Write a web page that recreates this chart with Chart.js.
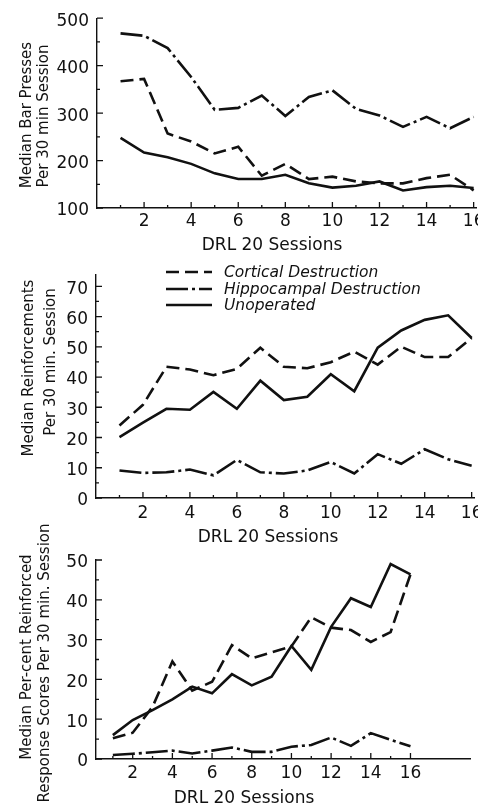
<!DOCTYPE html>
<html>
<head>
<meta charset="utf-8">
<script src="https://cdn.jsdelivr.net/npm/chart.js@4.4.1/dist/chart.umd.min.js"></script>
<style>
    body { margin: 0; background: #fff; }
    #wrap { position: relative; width: 478px; height: 806px; overflow: hidden; font-family: "DejaVu Sans", sans-serif; color: #111; }
    canvas { position: absolute; left: 0; }
    .ttl { position: absolute; white-space: nowrap; line-height: 1; font-size: 17px; transform: translate(-50%, -50%); }
    .rot { font-size: 15px; transform: translate(-50%, -50%) rotate(-90deg); }
    #legend { position: absolute; left: 166px; top: 264px; font-style: italic; font-size: 15.5px; line-height: 16.5px; }
    #legend div { display: flex; align-items: center; white-space: nowrap; }
    #legend svg { margin-right: 12px; }
</style>
</head>
<body>
<div id="wrap">
    <canvas id="chart-presses" width="478" height="256" style="top:0"></canvas>
    <canvas id="chart-reinf" width="478" height="290" style="top:256px"></canvas>
    <canvas id="chart-percent" width="478" height="306" style="top:500px"></canvas>

    <div class="ttl rot" style="left:26px; top:115px">Median Bar Presses</div>
    <div class="ttl rot" style="left:43px; top:116px">Per 30 min Session</div>
    <div class="ttl" style="left:272px; top:244px">DRL 20 Sessions</div>

    <div class="ttl rot" style="left:28px; top:368px">Median Reinforcements</div>
    <div class="ttl rot" style="left:50px; top:362px">Per 30 min. Session</div>
    <div class="ttl" style="left:268px; top:536px">DRL 20 Sessions</div>

    <div class="ttl rot" style="left:26px; top:657px">Median Per-cent Reinforced</div>
    <div class="ttl rot" style="left:44px; top:663px">Response Scores Per 30 min. Session</div>
    <div class="ttl" style="left:244px; top:797px">DRL 20 Sessions</div>

    <div id="legend"></div>
</div>
<script>
const sessions = [1, 2, 3, 4, 5, 6, 7, 8, 9, 10, 11, 12, 13, 14, 15, 16];
const sessionLabels = [2, 4, 6, 8, 10, 12, 14, 16];
const seriesNames = ["Cortical Destruction", "Hippocampal Destruction", "Unoperated"];

// bar presses per 30 min session
const pressesCortical = [367, 372, 257, 240, 215, 229, 168, 193, 161, 166, 156, 152, 152, 163, 170, 137];
const pressesHippocampal = [468, 463, 437, 376, 307, 311, 337, 294, 334, 348, 309, 295, 271, 292, 268, 292];
const pressesUnoperated = [248, 217, 207, 193, 173, 161, 161, 170, 152, 143, 147, 156, 137, 144, 147, 142];
const pressesTicks = [100, 200, 300, 400, 500];

// reinforcements per 30 min session
const reinfCortical = [24.0, 30.8, 43.4, 42.5, 40.6, 42.7, 49.7, 43.4, 42.9, 44.9, 48.4, 44.1, 50.0, 46.6, 46.6, 52.9];
const reinfHippocampal = [9.1, 8.3, 8.5, 9.4, 7.5, 12.6, 8.5, 8.1, 9.1, 11.9, 8.1, 14.5, 11.3, 16.1, 12.8, 10.7];
const reinfUnoperated = [20.1, 24.9, 29.5, 29.2, 35.1, 29.5, 38.8, 32.4, 33.5, 40.9, 35.3, 49.7, 55.4, 58.9, 60.4, 52.9];
const reinfTicks = [0, 10, 20, 30, 40, 50, 60, 70];

// per-cent reinforced response scores
const percentCortical = [5.2, 6.6, 13.1, 24.5, 17.2, 19.4, 28.6, 25.3, 26.8, 28.3, 35.6, 33.0, 32.4, 29.4, 31.9, 46.4];
const percentHippocampal = [1.0, 1.3, 1.7, 2.1, 1.4, 2.1, 2.9, 1.8, 1.8, 3.1, 3.5, 5.4, 3.3, 6.5, 4.8, 3.2];
const percentUnoperated = [6.0, 9.8, 12.3, 15.0, 18.2, 16.5, 21.3, 18.5, 20.7, 28.4, 22.4, 33.2, 40.4, 38.2, 49.0, 46.4];
const percentTicks = [0, 10, 20, 30, 40, 50];

const ink = "#111";
const dashes = [[13, 6], [22, 4, 3, 4], []];
const tickFont = { family: "DejaVu Sans", size: 17 };

// tick marks drawn on the inside of the axes, like the original figure
const innerTicks = {
    id: "innerTicks",
    afterDatasetsDraw(chart, args, opts) {
        const { ctx, chartArea } = chart;
        const x = chart.scales.x;
        const y = chart.scales.y;
        ctx.save();
        ctx.strokeStyle = ink;
        ctx.lineWidth = 1.3;
        ctx.beginPath();
        x.ticks.forEach((t) => {
            const px = x.getPixelForValue(t.value);
            const len = t.value % 2 === 0 ? 6 : 3;
            ctx.moveTo(px, chartArea.bottom);
            ctx.lineTo(px, chartArea.bottom - len);
        });
        y.ticks.forEach((t, i) => {
            const py = y.getPixelForValue(t.value);
            ctx.moveTo(chartArea.left, py);
            ctx.lineTo(chartArea.left + 6, py);
            if (i < y.ticks.length - 1) {
                const pm = y.getPixelForValue(t.value + opts.minor);
                ctx.moveTo(chartArea.left, pm);
                ctx.lineTo(chartArea.left + 3, pm);
            }
        });
        ctx.stroke();
        ctx.restore();
    },
};

function panel(id, series, yTicks, minor, box) {
    const el = document.getElementById(id);
    return new Chart(el, {
        type: "line",
        data: {
            datasets: series.map((vals, i) => ({
                label: seriesNames[i],
                data: sessions.map((s, k) => ({ x: s, y: vals[k] })),
                borderColor: ink,
                borderWidth: 2.6,
                borderDash: dashes[i],
                pointRadius: 0,
                tension: 0,
                fill: false,
            })),
        },
        options: {
            responsive: false,
            animation: false,
            events: [],
            layout: { padding: { top: box.top, right: el.width - box.right, bottom: 0, left: 0 } },
            plugins: {
                legend: { display: false },
                tooltip: { enabled: false },
                innerTicks: { minor: minor },
            },
            scales: {
                x: {
                    type: "linear",
                    min: box.xMin,
                    max: box.xMax,
                    grid: { display: false, drawTicks: false },
                    border: { display: true, color: ink, width: 1.4 },
                    afterBuildTicks: (s) => { s.ticks = sessions.map((v) => ({ value: v })); },
                    afterFit: (s) => { s.height = el.height - box.bottom; s.paddingLeft = 0; s.paddingRight = 0; },
                    ticks: {
                        autoSkip: false,
                        maxRotation: 0,
                        padding: box.xPad,
                        color: ink,
                        font: tickFont,
                        callback: (v) => (sessionLabels.includes(v) ? v : ""),
                    },
                },
                y: {
                    min: yTicks[0],
                    max: box.yMax || yTicks[yTicks.length - 1],
                    grid: { display: false, drawTicks: false },
                    border: { display: true, color: ink, width: 1.4 },
                    afterBuildTicks: (s) => { s.ticks = yTicks.map((v) => ({ value: v })); },
                    afterFit: (s) => { s.width = box.left; },
                    ticks: { padding: 8, labelOffset: 3, color: ink, font: tickFont },
                },
            },
        },
        plugins: [innerTicks],
    });
}

panel("chart-presses", [pressesCortical, pressesHippocampal, pressesUnoperated], pressesTicks, 50,
    { top: 17, bottom: 208, left: 97, right: 476, xMin: 0, xMax: 16.1, xPad: 3 });
panel("chart-reinf", [reinfCortical, reinfHippocampal, reinfUnoperated], reinfTicks, 5,
    { top: 11, bottom: 242, left: 96, right: 474, xMin: 0, xMax: 16.1, xPad: 5, yMax: 74 });
panel("chart-percent", [percentCortical, percentHippocampal, percentUnoperated], percentTicks, 5,
    { top: 60, bottom: 259, left: 96, right: 470, xMin: 0.15, xMax: 19, xPad: 4 });

// legend (lives inside the middle panel)
const legend = document.getElementById("legend");
seriesNames.forEach((name, i) => {
    const row = document.createElement("div");
    row.innerHTML = `<svg width="46" height="8"><line x1="0" y1="4" x2="46" y2="4" stroke="${ink}" stroke-width="2.6" stroke-dasharray="${dashes[i].join(" ") || "none"}"/></svg><span>${name}</span>`;
    legend.appendChild(row);
});
</script>
</body>
</html>
